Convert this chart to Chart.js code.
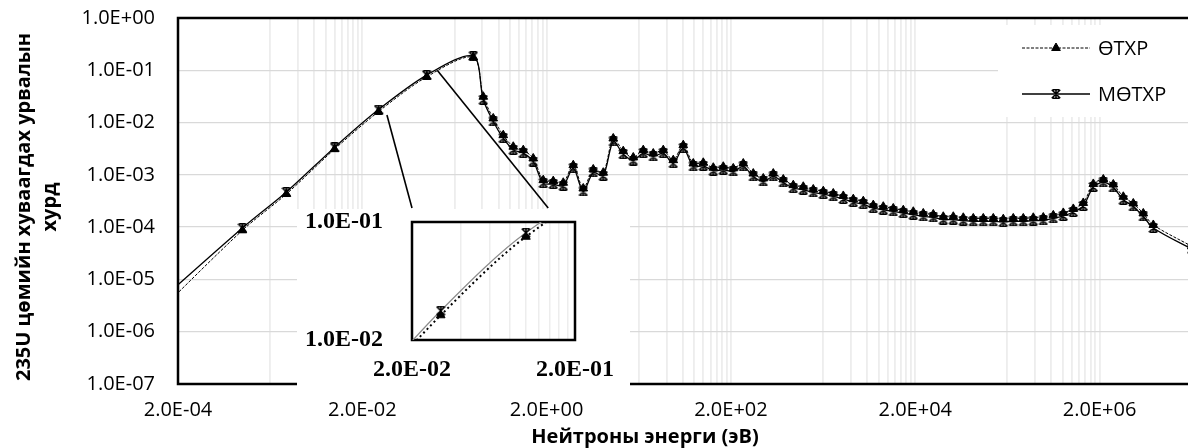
<!DOCTYPE html>
<html lang="mn">
<head>
<meta charset="utf-8">
<title>235U цөмийн хуваагдах урвалын хурд</title>
<script src="https://cdn.jsdelivr.net/npm/chart.js@4.4.1/dist/chart.umd.min.js"></script>
<style>
  html, body { margin: 0; padding: 0; background: #fff; overflow: hidden; }
  #wrap { position: relative; width: 1188px; height: 448px; overflow: hidden; }
  #main { position: absolute; left: 0; top: 0; }
  #zoom { position: absolute; left: 297px; top: 209px; background: #fff; }
</style>
</head>
<body>
<div id="wrap">
  <canvas id="main" width="1198" height="448"></canvas>
  <canvas id="zoom" width="333" height="183"></canvas>
</div>
<script>
// Neutron energy of each group point, eV
const energy = [
  1e-4, 1e-3, 3e-3, 1e-2, 3e-2, 1e-1,
  0.320, 0.411, 0.527, 0.677, 0.869, 1.116, 1.432, 1.839, 2.361, 3.031,
  3.891, 4.995, 6.413, 8.234, 10.57, 13.57, 17.43, 22.37, 28.73, 36.88,
  47.35, 60.79, 78.05, 100.2, 128.7, 165.2, 212.1, 272.3, 349.6, 448.8,
  576.2, 739.7, 949.6, 1219, 1565, 2010, 2580, 3313, 4254, 5461,
  7011, 9000, 11550, 14840, 19050, 24450, 31400, 40300, 51760, 66440,
  85300, 109500, 140600, 180500, 231700, 297500, 382000, 490400, 629700, 808400,
  1.038e6, 1.332e6, 1.711e6, 2.197e6, 2.820e6, 3.621e6, 4.648e6, 5.967e6, 7.662e6,
  2e7
];

// Reaction rate, ӨТХР
const otxr = [
  1.67e-6, 8.7e-5, 4.3e-4, 3.1e-3, 1.62e-2, 7.5e-2,
  0.178, 0.0312, 0.0120, 5.74e-3, 3.45e-3, 2.97e-3, 2.06e-3, 7.92e-4, 7.59e-4, 7.06e-4,
  1.53e-3, 5.49e-4, 1.27e-3, 1.10e-3, 4.97e-3, 2.84e-3, 2.15e-3, 2.97e-3, 2.56e-3, 2.97e-3,
  1.91e-3, 3.70e-3, 1.65e-3, 1.70e-3, 1.37e-3, 1.43e-3, 1.33e-3, 1.65e-3, 1.06e-3, 8.53e-4,
  1.06e-3, 8.16e-4, 6.35e-4, 5.92e-4, 5.26e-4, 4.88e-4, 4.41e-4, 3.95e-4, 3.43e-4, 3.14e-4,
  2.64e-4, 2.46e-4, 2.28e-4, 2.11e-4, 1.97e-4, 1.83e-4, 1.75e-4, 1.58e-4, 1.58e-4, 1.51e-4,
  1.47e-4, 1.47e-4, 1.47e-4, 1.42e-4, 1.47e-4, 1.47e-4, 1.51e-4, 1.53e-4, 1.68e-4, 1.87e-4,
  2.23e-4, 2.90e-4, 6.70e-4, 8.16e-4, 6.55e-4, 3.81e-4, 2.84e-4, 1.83e-4, 1.10e-4,
  4.3e-5
];

// Reaction rate, МӨТХР
const motxr = [
  2.66e-6, 9.6e-5, 4.7e-4, 3.35e-3, 1.77e-2, 8.1e-2,
  0.186, 0.0273, 0.0105, 5.03e-3, 3.02e-3, 2.60e-3, 1.80e-3, 6.94e-4, 6.65e-4, 6.19e-4,
  1.34e-3, 4.81e-4, 1.11e-3, 9.61e-4, 4.35e-3, 2.49e-3, 1.88e-3, 2.60e-3, 2.25e-3, 2.60e-3,
  1.67e-3, 3.24e-3, 1.45e-3, 1.49e-3, 1.20e-3, 1.25e-3, 1.16e-3, 1.45e-3, 9.32e-4, 7.47e-4,
  9.32e-4, 7.15e-4, 5.56e-4, 5.19e-4, 4.61e-4, 4.28e-4, 3.87e-4, 3.46e-4, 3.01e-4, 2.75e-4,
  2.31e-4, 2.15e-4, 2.00e-4, 1.85e-4, 1.73e-4, 1.60e-4, 1.53e-4, 1.39e-4, 1.39e-4, 1.33e-4,
  1.29e-4, 1.29e-4, 1.29e-4, 1.25e-4, 1.29e-4, 1.29e-4, 1.33e-4, 1.34e-4, 1.47e-4, 1.64e-4,
  1.95e-4, 2.54e-4, 5.87e-4, 7.15e-4, 5.74e-4, 3.34e-4, 2.49e-4, 1.60e-4, 9.65e-5,
  3.8e-5
];

const seriesNames = ['ӨТХР', 'МӨТХР'];

const xTickValues = [2e-4, 2e-2, 2e0, 2e2, 2e4, 2e6];
const xTickLabels = ['2.0E-04', '2.0E-02', '2.0E+00', '2.0E+02', '2.0E+04', '2.0E+06'];
const yTickValues = [1e-7, 1e-6, 1e-5, 1e-4, 1e-3, 1e-2, 1e-1, 1];
const yTickLabels = ['1.0E-07', '1.0E-06', '1.0E-05', '1.0E-04', '1.0E-03', '1.0E-02', '1.0E-01', '1.0E+00'];

const zoomXTickValues = [2e-2, 2e-1];
const zoomXTickLabels = ['2.0E-02', '2.0E-01'];
const zoomYTickValues = [1e-2, 1e-1];
const zoomYTickLabels = ['1.0E-02', '1.0E-01'];

const yTitle = ['235U цөмийн хуваагдах урвалын', 'хурд'];
const xTitle = 'Нейтроны энерги (эВ)';

// Leader lines: point on the main curve -> energy on the magnified panel's top edge
const leaders = [
  { from: [0.037, 0.014], to: 0.02 },
  { from: [0.13, 0.1], to: 0.137 }
];

const SANS = "'Open Sans', 'Noto Sans', sans-serif";
const SERIF = "'Liberation Serif', 'DejaVu Serif', serif";

// Star marker: an X with a centre stroke and short caps
function makeStar(size, lw) {
  const c = document.createElement('canvas');
  c.width = size; c.height = size;
  const g = c.getContext('2d');
  g.strokeStyle = '#000';
  g.lineWidth = lw;
  const p = lw / 2, q = size - lw / 2, m = size / 2;
  g.beginPath();
  g.moveTo(p, p); g.lineTo(q, q);
  g.moveTo(q, p); g.lineTo(p, q);
  g.moveTo(m, p); g.lineTo(m, q);
  g.moveTo(p + 1, p); g.lineTo(q - 1, p);
  g.moveTo(p + 1, q); g.lineTo(q - 1, q);
  g.stroke();
  return c;
}
const starMarker = makeStar(10, 1.6);

function points(values) {
  return energy.map((e, i) => ({ x: e, y: values[i] }));
}

function labelFor(values, labels, v) {
  const i = values.findIndex(t => Math.abs(t - v) / t < 1e-6);
  return i < 0 ? '' : labels[i];
}

// Main axis: majors every two decades, minor lines at 10·k times each major
function mainGrid(max) {
  const out = [];
  xTickValues.forEach(m => {
    out.push({ value: m });
    for (let k = 1; k <= 9; k++) {
      const v = m * 10 * k;
      if (v <= max * 1.000001) out.push({ value: v });
    }
  });
  return out;
}

// Magnified axis: one decade with minors at k times the major
function zoomGrid() {
  const out = [{ value: zoomXTickValues[0] }];
  for (let k = 2; k <= 9; k++) out.push({ value: zoomXTickValues[0] * k });
  out.push({ value: zoomXTickValues[1] });
  return out;
}

// keep the plot area exactly where the layout padding puts it
function noEdgePadding(s) {
  s.paddingTop = 0; s.paddingBottom = 0; s.paddingLeft = 0; s.paddingRight = 0;
}

const frame = {
  id: 'frame',
  beforeDatasetsDraw(chart) {
    const { ctx, chartArea: a } = chart;
    ctx.save();
    ctx.strokeStyle = '#000';
    ctx.lineWidth = 2.5;
    ctx.strokeRect(a.left, a.top, a.right - a.left, a.bottom - a.top);
    ctx.restore();
  }
};

// Magnified panel
const zoomCanvas = document.getElementById('zoom');
const zoomChart = new Chart(zoomCanvas, {
  type: 'line',
  data: {
    datasets: [
      {
        label: seriesNames[0], data: points(otxr),
        borderColor: '#000', borderWidth: 2, borderDash: [2, 3],
        pointStyle: 'triangle', pointRadius: 5,
        pointBackgroundColor: '#000', pointBorderColor: '#000', pointBorderWidth: 1,
        tension: 0.3, clip: 0
      },
      {
        label: seriesNames[1], data: points(motxr),
        borderColor: '#8c8c8c', borderWidth: 1.2,
        pointStyle: starMarker, pointRadius: 5,
        tension: 0.3, clip: 0
      }
    ]
  },
  options: {
    responsive: false, animation: false, devicePixelRatio: 1,
    layout: { padding: { top: 13, right: 55, left: 0, bottom: 0 } },
    plugins: { legend: { display: false }, tooltip: { enabled: false } },
    scales: {
      x: {
        type: 'logarithmic', min: zoomXTickValues[0], max: zoomXTickValues[1],
        afterBuildTicks(s) { s.ticks = zoomGrid(); },
        afterFit(s) { s.height = 52; noEdgePadding(s); },
        grid: { color: '#ededed', lineWidth: 1.5, drawTicks: false },
        border: { display: false },
        ticks: {
          autoSkip: false, maxRotation: 0, minRotation: 0, padding: 15, color: '#000',
          font: { family: SERIF, size: 24, weight: 'bold' },
          callback: v => labelFor(zoomXTickValues, zoomXTickLabels, v)
        }
      },
      y: {
        type: 'logarithmic', min: zoomYTickValues[0], max: zoomYTickValues[1],
        afterBuildTicks(s) { s.ticks = zoomYTickValues.map(v => ({ value: v })); },
        afterFit(s) { s.width = 115; noEdgePadding(s); },
        grid: { display: false },
        border: { display: false },
        ticks: {
          autoSkip: false, padding: 21, color: '#000',
          font: { family: SERIF, size: 24, weight: 'bold' },
          callback: v => labelFor(zoomYTickValues, zoomYTickLabels, v)
        }
      }
    }
  },
  plugins: [frame]
});

const decor = {
  id: 'decor',
  afterDraw(chart) {
    const { ctx, scales: { x, y } } = chart;
    const sets = chart.data.datasets;
    ctx.save();

    // legend panel
    ctx.fillStyle = '#fff';
    ctx.fillRect(998, 25, 210, 92);
    const rows = [48, 94];
    sets.forEach((ds, i) => {
      const ly = rows[i];
      ctx.save();
      ctx.strokeStyle = ds.borderColor;
      ctx.lineWidth = ds.borderWidth;
      ctx.setLineDash(ds.borderDash || []);
      ctx.beginPath();
      ctx.moveTo(1022, ly); ctx.lineTo(1090, ly);
      ctx.stroke();
      ctx.restore();
      ctx.save();
      ctx.fillStyle = '#000'; ctx.strokeStyle = '#000';
      Chart.helpers.drawPoint(ctx, { pointStyle: ds.pointStyle, radius: ds.pointRadius, borderWidth: 1, rotation: 0 }, 1056, ly);
      ctx.restore();
      ctx.fillStyle = '#000';
      ctx.font = `20px ${SANS}`;
      ctx.textAlign = 'left';
      ctx.textBaseline = 'middle';
      ctx.fillText(ds.label, 1098, ly + 1);
    });

    // leader lines to the magnified panel
    const zx = zoomChart.scales.x;
    const top = zoomCanvas.offsetTop + zoomChart.chartArea.top - 14;
    ctx.strokeStyle = '#000';
    ctx.lineWidth = 1.6;
    leaders.forEach(l => {
      ctx.beginPath();
      ctx.moveTo(x.getPixelForValue(l.from[0]), y.getPixelForValue(l.from[1]));
      ctx.lineTo(zoomCanvas.offsetLeft + zx.getPixelForValue(l.to), top);
      ctx.stroke();
    });

    // axis titles
    ctx.fillStyle = '#000';
    ctx.font = `bold 20px ${SANS}`;
    ctx.textAlign = 'center';
    ctx.textBaseline = 'middle';
    ctx.fillText(xTitle, 645, 437);
    [24, 50].forEach((tx, i) => {
      ctx.save();
      ctx.translate(tx, 207);
      ctx.rotate(-Math.PI / 2);
      ctx.fillText(yTitle[i], 0, 0);
      ctx.restore();
    });
    ctx.restore();
  }
};

new Chart(document.getElementById('main'), {
  type: 'line',
  data: {
    datasets: [
      {
        label: seriesNames[0], data: points(otxr),
        borderColor: '#000', borderWidth: 1, borderDash: [3, 1.5],
        pointStyle: 'triangle', pointRadius: 5,
        pointBackgroundColor: '#000', pointBorderColor: '#000', pointBorderWidth: 1,
        tension: 0.3, clip: 0
      },
      {
        label: seriesNames[1], data: points(motxr),
        borderColor: '#000', borderWidth: 1.3,
        pointStyle: starMarker, pointRadius: 5,
        tension: 0.3, clip: 0
      }
    ]
  },
  options: {
    responsive: false, animation: false, devicePixelRatio: 1,
    layout: { padding: { top: 18, right: 0, left: 0, bottom: 0 } },
    plugins: { legend: { display: false }, tooltip: { enabled: false } },
    scales: {
      x: {
        type: 'logarithmic', min: 2e-4, max: 2e7,
        afterBuildTicks(s) { s.ticks = mainGrid(2e7); },
        afterFit(s) { s.height = 64; noEdgePadding(s); },
        grid: { color: '#ededed', lineWidth: 1.8, drawTicks: false },
        border: { display: false },
        ticks: {
          autoSkip: false, maxRotation: 0, minRotation: 0, padding: 14, color: '#000',
          font: { family: SANS, size: 20 },
          callback: v => labelFor(xTickValues, xTickLabels, v)
        }
      },
      y: {
        type: 'logarithmic', min: 1e-7, max: 1,
        afterBuildTicks(s) { s.ticks = yTickValues.map(v => ({ value: v })); },
        afterFit(s) { s.width = 178; noEdgePadding(s); },
        grid: { color: '#d9d9d9', lineWidth: 1.3, drawTicks: false },
        border: { display: false },
        ticks: {
          autoSkip: false, padding: 23, color: '#000',
          font: { family: SANS, size: 20 },
          callback: v => labelFor(yTickValues, yTickLabels, v)
        }
      }
    }
  },
  plugins: [frame, decor]
});
</script>
</body>
</html>
